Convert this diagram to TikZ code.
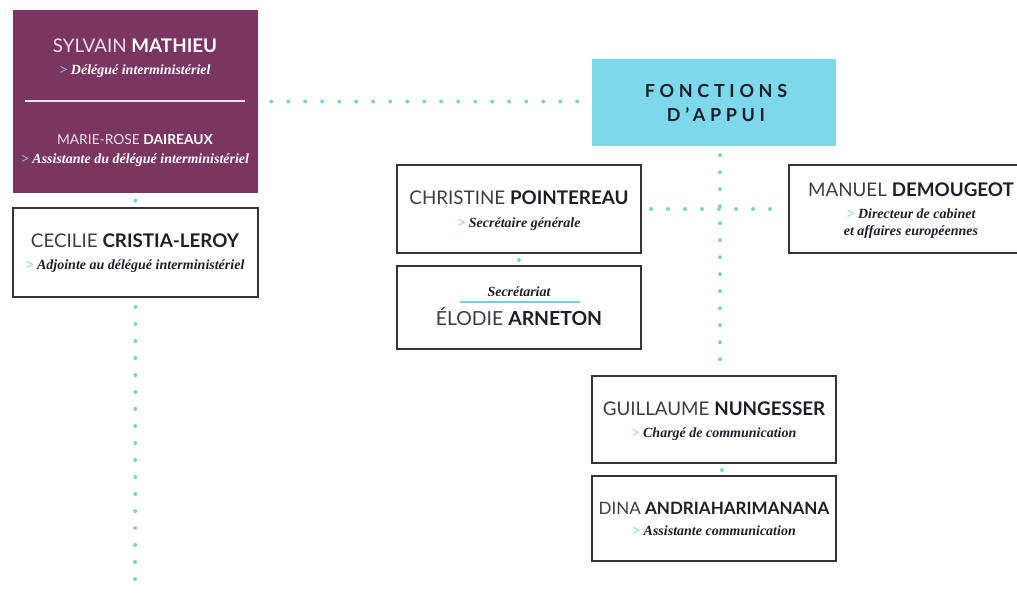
\documentclass[tikz,border=0pt]{standalone}
\usepackage{fontspec}
\setmainfont{Lato}
\newfontfamily\rolefont{Liberation Serif}
\usetikzlibrary{calc}
\definecolor{plum}{HTML}{7A3560}
\definecolor{sky}{HTML}{7DD8EC}
\definecolor{dotc}{HTML}{7ACFE6}
\definecolor{framec}{HTML}{333333}
\definecolor{ink}{HTML}{1E1E28}
\definecolor{firstc}{HTML}{3C3C46}
\definecolor{divc}{HTML}{EFE3EA}
\tikzset{
  card/.style={draw=framec, line width=2pt, fill=white, inner sep=0pt},
  dotline/.style={dotc, line width=4pt, line cap=round, dash pattern=on 0pt off 17pt},
  namet/.style={font=\fontsize{18.8}{20}\selectfont, text=ink, inner sep=0pt},
  rolet/.style={font=\rolefont\bfseries\itshape\fontsize{14}{17}\selectfont, text=ink, inner sep=0pt, align=center},
}
\newcommand\arr{\textcolor{dotc}{>}~}
\newcommand\nm[2]{{\color{firstc}#1} \textbf{#2}}
\begin{document}
\begin{tikzpicture}[x=1pt,y=-1pt]
\useasboundingbox (0,0) rectangle (1017,594);
\clip (0,0) rectangle (1017,594);
% boxes
\node[fill=plum, inner sep=0pt, minimum width=245pt, minimum height=183pt] (purple) at (135.5,101.5) {};
\node[card, minimum width=245pt, minimum height=89pt] (cecilie) at (135.5,252.5) {};
\node[fill=sky, inner sep=0pt, minimum width=244pt, minimum height=87pt] (fonct) at (714,102.5) {};
\node[card, minimum width=244pt, minimum height=88pt] (christine) at (519,209) {};
\node[card, minimum width=244pt, minimum height=83pt] (elodie) at (519,307.5) {};
\node[card, minimum width=241pt, minimum height=88pt] (manuel) at (909.5,209) {};
\node[card, minimum width=244pt, minimum height=87pt] (guil) at (714,419.5) {};
\node[card, minimum width=244pt, minimum height=85pt] (dina) at (714,518.5) {};
% purple box content
\node[namet, text=white] (t1) at (135,46) {{\color{white!85!plum}SYLVAIN} \textbf{MATHIEU}};
\node[rolet, text=white] (t2) at (135,71) {\arr Délégué interministériel};
\draw[divc, line width=2.5pt] (25,101) -- (245,101);
\node[namet, text=white, font=\fontsize{13.8}{15}\selectfont] (t3) at (135,140) {{\color{white!85!plum}MARIE-ROSE} \textbf{DAIREAUX}};
\node[rolet, text=white] (t4) at (135,160) {\arr Assistante du délégué interministériel};
% cecilie
\node[namet] (t5) at (135,241) {\nm{CECILIE}{CRISTIA-LEROY}};
\node[rolet] (t6) at (135,266) {\arr Adjointe au délégué interministériel};
% fonctions d'appui
\node[inner sep=0pt, align=center, text=ink, font=\fontsize{18}{24}\selectfont\bfseries\addfontfeatures{LetterSpace=26}] (t7) at (716,102.5) {FONCTIONS\\D'APPUI};
% christine
\node[namet] (t8) at (519,198) {\nm{CHRISTINE}{POINTEREAU}};
\node[rolet] (t9) at (519,224) {\arr Secrétaire générale};
% elodie
\node[rolet] (t10) at (519,292) {Secrétariat};
\draw[dotc, line width=1.5pt] (460,302) -- (580,302);
\node[namet, font=\fontsize{19.4}{21}\selectfont] (t11) at (519,317) {\nm{ÉLODIE}{ARNETON}};
% manuel
\node[namet] (t12) at (911,190) {\nm{MANUEL}{DEMOUGEOT}};
\node[rolet] (t13) at (911,223.5) {\arr Directeur de cabinet\\et affaires européennes};
% guillaume
\node[namet] (t14) at (714,409) {\nm{GUILLAUME}{NUNGESSER}};
\node[rolet] (t15) at (714,434) {\arr Chargé de communication};
% dina
\node[namet, font=\fontsize{17}{19}\selectfont] (t16) at (714,508) {\nm{DINA}{ANDRIAHARIMANANA}};
\node[rolet] (t17) at (714,531) {\arr Assistante communication};
% connectors
\coordinate (bottom) at (135,600);
\draw[dotline, shorten <=13pt, shorten >=6pt] (purple.east) -- (purple.east -| fonct.west);
\draw[dotline, shorten <=7.5pt, shorten >=7pt] (purple.south) -- (cecilie.north);
\draw[dotline, shorten <=9pt] (cecilie.south) -- (bottom);
\draw[dotline, shorten <=9pt, shorten >=6pt] ($(fonct.south)+(6,0)$) -- ($(guil.north)+(6,0)$);
\draw[dotline, shorten <=9pt, shorten >=8pt] (christine.east) -- (manuel.west);
\draw[dotline, shorten <=6pt, shorten >=7pt] (christine.south) -- (elodie.north);
\draw[dotline, shorten <=6pt, shorten >=7pt] ($(guil.south)+(8,0)$) -- ($(dina.north)+(8,0)$);
\end{tikzpicture}
\end{document}
